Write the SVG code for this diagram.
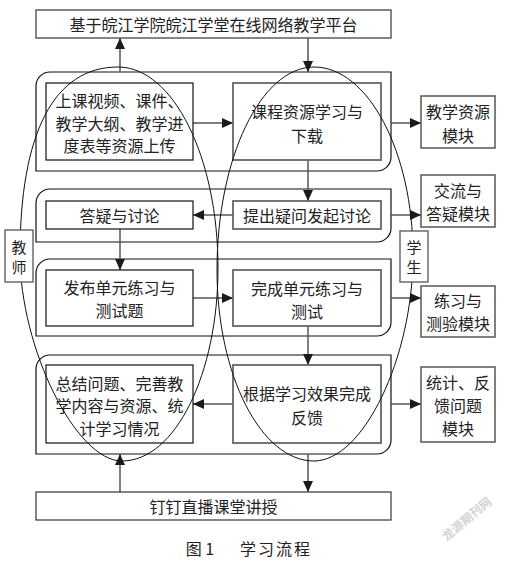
<svg xmlns="http://www.w3.org/2000/svg" width="508" height="561" viewBox="0 0 508 561">
<style>
text{font-family:"Noto Sans CJK SC","Liberation Sans",sans-serif;font-size:16px;fill:#222;text-anchor:middle;dominant-baseline:central}
.frame{fill:none;stroke:#111;stroke-width:1.2}
.boxL{fill:#fff;stroke:#111;stroke-width:1.2}
.boxR{fill:#fff;stroke:#666;stroke-width:1.8}
.mod{fill:#fff;stroke:#555;stroke-width:1.5}
.plat{fill:#fff;stroke:#444;stroke-width:1.3}
.role{fill:#fff;stroke:#555;stroke-width:1.3}
.roleT{font-size:15px}
.ell{fill:none;stroke:#111;stroke-width:1}
.con{fill:none;stroke:#555;stroke-width:1.5;marker-end:url(#ah)}
</style>
<defs>
<marker id="ah" markerUnits="userSpaceOnUse" markerWidth="12" markerHeight="10" refX="11" refY="5" orient="auto">
<path d="M0,0 L11,5 L0,10 Z" fill="#1a1a1a"/>
</marker>
</defs>
<rect width="508" height="561" fill="#fff"/>
<g id="frames">
<path class="frame" d="M36,171 V86 A14,14 0 0 1 50,72 H391 V157 A14,14 0 0 1 377,171 Z"/>
<path class="frame" d="M36,242 V203 A14,14 0 0 1 50,189 H391 V228 A14,14 0 0 1 377,242 Z"/>
<path class="frame" d="M36,336 V273 A14,14 0 0 1 50,259 H391 V322 A14,14 0 0 1 377,336 Z"/>
<path class="frame" d="M36,454 V369 A14,14 0 0 1 50,355 H391 V440 A14,14 0 0 1 377,454 Z"/>
</g>
<g id="connectors">
<line class="con" x1="120" y1="72" x2="120" y2="38"/>
<line class="con" x1="308" y1="38" x2="308" y2="72"/>
<line class="con" x1="193" y1="123" x2="233" y2="123"/>
<line class="con" x1="391" y1="123" x2="421" y2="123"/>
<line class="con" x1="308" y1="160" x2="308" y2="201"/>
<line class="con" x1="233" y1="215" x2="193" y2="215"/>
<line class="con" x1="391" y1="215" x2="421" y2="215"/>
<line class="con" x1="120" y1="229" x2="120" y2="270"/>
<line class="con" x1="193" y1="298" x2="233" y2="298"/>
<line class="con" x1="391" y1="298" x2="421" y2="298"/>
<line class="con" x1="308" y1="326" x2="308" y2="365"/>
<line class="con" x1="233" y1="404" x2="193" y2="404"/>
<line class="con" x1="391" y1="404" x2="421" y2="404"/>
<line class="con" x1="120" y1="492" x2="120" y2="454"/>
<line class="con" x1="308" y1="454" x2="308" y2="492"/>
</g>
<g id="platform">
<rect class="plat" x="36" y="10" width="355" height="28"/>
<text x="213.5" y="24">基于皖江学院皖江学堂在线网络教学平台</text>
</g>
<g id="upload">
<rect class="boxL" x="46" y="83" width="147" height="77"/>
<text x="119.5" y="100">上课视频、课件、</text>
<text x="119.5" y="123">教学大纲、教学进</text>
<text x="119.5" y="145">度表等资源上传</text>
</g>
<g id="study">
<rect class="boxR" x="233" y="83" width="148" height="77"/>
<text x="307" y="111">课程资源学习与</text>
<text x="307" y="135">下载</text>
</g>
<g id="mod-resource">
<rect class="mod" x="421" y="96" width="74" height="52"/>
<text x="458" y="111">教学资源</text>
<text x="458" y="135">模块</text>
</g>
<g id="answer">
<rect class="boxL" x="46" y="201" width="147" height="28"/>
<text x="119.5" y="215">答疑与讨论</text>
</g>
<g id="ask">
<rect class="boxR" x="233" y="201" width="148" height="28"/>
<text x="307" y="215">提出疑问发起讨论</text>
</g>
<g id="mod-qa">
<rect class="mod" x="421" y="175" width="74" height="52"/>
<text x="458" y="190">交流与</text>
<text x="458" y="213">答疑模块</text>
</g>
<g id="publish">
<rect class="boxL" x="46" y="270" width="147" height="56"/>
<text x="119.5" y="287">发布单元练习与</text>
<text x="119.5" y="310">测试题</text>
</g>
<g id="complete">
<rect class="boxR" x="233" y="270" width="148" height="56"/>
<text x="307" y="288">完成单元练习与</text>
<text x="307" y="311">测试</text>
</g>
<g id="mod-exercise">
<rect class="mod" x="421" y="286" width="74" height="51"/>
<text x="458" y="300">练习与</text>
<text x="458" y="323">测验模块</text>
</g>
<g id="summary">
<rect class="boxL" x="46" y="365" width="147" height="78"/>
<text x="119.5" y="383">总结问题、完善教</text>
<text x="119.5" y="405">学内容与资源、统</text>
<text x="119.5" y="428">计学习情况</text>
</g>
<g id="feedback">
<rect class="boxR" x="233" y="365" width="148" height="78"/>
<text x="307" y="393">根据学习效果完成</text>
<text x="307" y="417">反馈</text>
</g>
<g id="mod-stat">
<rect class="mod" x="421" y="367" width="74" height="75"/>
<text x="458" y="382">统计、反</text>
<text x="458" y="405">馈问题</text>
<text x="458" y="428">模块</text>
</g>
<g id="live">
<rect class="plat" x="36" y="492" width="355" height="28"/>
<text x="213.5" y="506">钉钉直播课堂讲授</text>
</g>
<g id="ellipses">
<path class="ell" d="M118,67 C173,67 218,157 218,268 C218,374 175,461 122,461 C76,461 20,348 20,255 C20,133 54,67 118,67 Z"/>
<path class="ell" d="M314,67 C368,67 413,152 413,255 C413,358 363,461 314,461 C261,461 217,375 217,270 C217,158 261,67 314,67 Z"/>
</g>
<g id="teacher">
<rect class="role" x="5" y="230" width="28" height="52"/>
<text class="roleT" x="19" y="246">教</text>
<text class="roleT" x="19" y="266">师</text>
</g>
<g id="student">
<rect class="role" x="400" y="231" width="28" height="51"/>
<text class="roleT" x="414" y="246">学</text>
<text class="roleT" x="414" y="266">生</text>
</g>
<g id="caption">
<text x="200" y="548">图 1</text>
<text x="276" y="548" style="letter-spacing:2px">学习流程</text>
</g>
<text x="466" y="518" transform="rotate(-40 466 518)" style="font-size:12px;font-weight:bold;fill:#d4d4d4">龙源期刊网</text>
</svg>
